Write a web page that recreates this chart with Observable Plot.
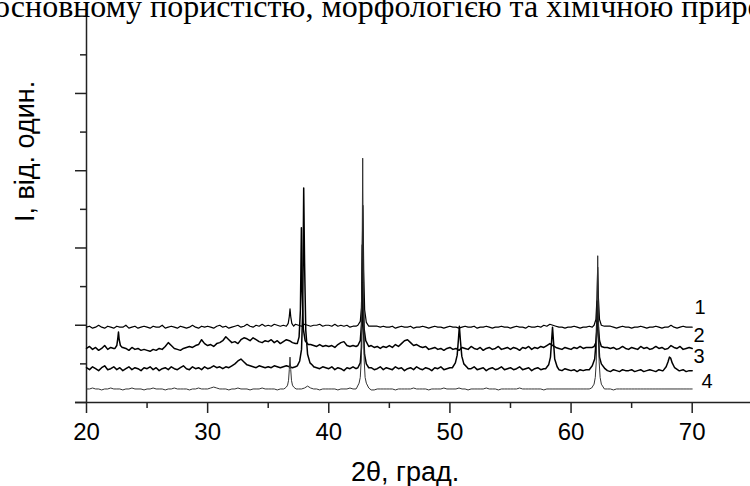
<!DOCTYPE html>
<html><head><meta charset="utf-8">
<script src="https://cdn.jsdelivr.net/npm/d3@7"></script>
<script src="https://cdn.jsdelivr.net/npm/@observablehq/plot@0.6"></script>
<style>
body{margin:0;background:#fff;}
#wrap{position:relative;width:750px;height:486px;overflow:hidden;background:#fff;}
#wrap svg{position:absolute;left:0;top:0;}
#cut{position:absolute;left:-6px;top:-10px;z-index:2;font-family:"Liberation Serif","Times New Roman",serif;font-size:32px;line-height:1;white-space:nowrap;color:#000;}
</style></head><body>
<div id="wrap"><div id="cut">основному пористістю, морфологією та хімічною природою</div></div>
<script>
// ---- data (2θ grid start/step, offsets of stacked patterns, relative intensities) ----
const twoThetaStart = 20, twoThetaStep = 0.25;
const curveLabels = ["1", "2", "3", "4"];
const offsets = [78, 56, 35, 14];
const xTicksMajor = [20, 30, 40, 50, 60, 70];
const xTicksMinor = [25, 35, 45, 55, 65];
const yTicksMajor = [0, 80, 160, 240, 320, 400];
const yTicksMinor = [40, 120, 200, 280, 360];
const xTitle = "2θ, град.";
const yTitle = "I, від. один.";

const noise1 = [
 0,1,-1,0,2,0,-1,1,0,-1,1,0,0,2,-1,0,1,-1,0,1,
 0,-1,1,0,0,2,-1,0,1,0,-1,1,0,-1,0,2,0,-1,1,0,
 1,0,-1,1,2,0,1,-1,0,1,2,0,1,3,1,0,2,1,3,1,
 2,1,3,2,1,2,3,1,2,3,2,1,3,2,1,2,2,3,1,2,
 2,1,3,1,2,1,2,0,1,1,1,1,1,1,1,1,1,0,1,0,
 0,1,-1,0,1,0,0,1,-1,0,0,1,0,-1,0,1,0,0,-1,0,
 1,0,0,-1,0,1,0,0,1,-1,0,0,1,0,-1,0,0,1,0,0,
 -1,0,1,0,0,-1,1,0,0,1,0,2,1,3,2,1,0,0,-1,0,
 0,1,0,-1,0,0,1,0,1,1,1,1,1,1,0,-1,0,1,0,0,
 -1,0,0,1,0,-1,0,0,1,0,-1,0,0,2,0,-1,0,1,0,0,
 0];
const noise2 = [
 0,2,-1,1,-2,0,3,-1,1,0,2,-1,1,0,-2,1,-1,0,-2,-1,
 -2,-3,-1,-2,0,-1,2,6,3,0,-1,-2,0,1,2,1,3,4,9,5,
 3,4,2,5,6,8,12,9,6,7,5,9,11,10,8,11,9,7,6,8,
 7,9,6,8,5,7,9,8,6,5,6,5,4,4,4,3,2,4,2,3,
 2,3,1,4,6,7,3,2,3,2,2,2,2,2,3,1,2,0,2,1,
 3,1,4,2,5,8,9,6,3,4,2,1,2,-1,0,1,-1,0,-2,0,
 1,-1,0,-2,1,0,-1,2,0,-1,1,-2,0,1,-1,0,2,-1,0,1,
 -1,1,0,-2,1,0,2,-1,1,0,2,1,3,5,3,1,0,-1,1,0,
 -1,1,0,2,0,1,1,1,1,1,1,1,1,0,1,-1,0,2,0,-1,
 1,0,-1,2,0,1,-1,0,2,0,1,-1,0,3,1,0,2,-1,0,1,
 0];
const noise3 = [
 1,-1,2,0,-2,1,3,-1,0,2,-1,1,-2,0,2,-1,1,0,-2,1,
 0,2,-1,1,-2,0,1,-1,2,0,-1,1,3,0,-1,2,0,1,-1,2,
 0,1,3,1,2,0,2,1,3,5,8,10,7,4,3,2,1,3,2,1,
 2,1,3,2,1,2,3,2,1,2,2,2,2,2,2,2,1,0,2,1,
 0,2,-1,1,0,-2,1,0,2,0,0,0,0,0,1,-1,0,2,-1,1,
 0,-1,2,0,1,-2,0,1,-1,2,0,-1,1,0,-2,1,0,2,-1,0,
 1,-1,0,0,0,0,0,0,2,-1,0,1,-2,0,1,-1,0,2,-1,0,
 1,-1,0,2,-1,0,1,-2,0,1,-1,0,0,0,0,0,-1,-2,0,-1,
 -2,-1,-3,-1,-2,-1,-1,-1,-1,-1,-1,-1,-2,-3,-1,-2,-3,-1,-2,-2,
 -1,-3,-2,-1,-3,-2,-1,-2,-3,-1,-2,-2,-2,-2,-2,-2,-2,-1,-3,-2,
 -2];
const noise4 = [
 0,0,1,0,0,-1,0,0,1,0,0,0,-1,0,0,1,0,0,0,-1,
 0,0,1,0,0,0,-1,0,0,1,0,0,0,0,-1,0,0,1,0,0,
 0,1,2,1,0,0,0,-1,0,0,1,0,0,0,-1,0,0,0,1,0,
 0,0,0,-1,0,0,0,0,0,0,0,0,1,3,1,0,0,-1,0,0,
 0,0,0,-1,0,0,0,1,0,0,0,0,0,0,-1,-1,0,0,0,0,
 0,0,-1,0,0,0,0,0,1,0,0,0,0,-1,0,0,0,0,1,0,
 0,0,0,1,0,0,-1,0,0,0,0,0,1,0,0,0,-1,0,0,0,
 0,0,0,1,0,0,0,0,0,0,0,-1,0,0,0,0,0,0,0,0,
 0,0,0,0,0,0,0,0,0,0,0,0,0,0,-1,0,0,0,0,0,
 0,0,0,0,0,0,0,0,0,0,0,0,0,0,0,0,0,0,0,0,
 0];

const peaks1 = [
 [[36.5,1],[36.65,4],[36.74,11],[36.8,19],[36.86,11],[36.95,4],[37.1,1]],
 [[42.4,2],[42.6,6],[42.7,20],[42.76,70],[42.82,126],[42.88,60],[42.96,18],[43.1,5],[43.3,1]],
 [[61.9,2],[62.05,8],[62.14,30],[62.2,62],[62.26,30],[62.35,8],[62.5,2]]
];
const peaks2 = [
 [[22.35,0],[22.5,3],[22.58,10],[22.64,17],[22.7,9],[22.8,3],[22.95,1]],
 [[37.4,5],[37.55,12],[37.66,40],[37.74,125],[37.8,60],[37.9,20],[38.05,8],[38.3,4]],
 [[42.4,3],[42.6,8],[42.7,25],[42.77,107],[42.83,60],[42.92,20],[43.05,8],[43.3,2]],
 [[61.9,2],[62.05,6],[62.14,20],[62.2,45],[62.26,22],[62.35,8],[62.5,2]]
];
const peaks3 = [
 [[37.4,3],[37.6,8],[37.75,20],[37.85,60],[37.93,187],[38.0,110],[38.1,40],[38.25,15],[38.45,6],[38.7,3]],
 [[42.4,1],[42.6,6],[42.7,22],[42.78,88],[42.85,45],[42.95,15],[43.1,5],[43.3,1]],
 [[50.2,1],[50.45,6],[50.6,14],[50.7,30],[50.78,44],[50.86,30],[50.98,13],[51.15,5],[51.45,1]],
 [[57.9,0],[58.15,4],[58.3,12],[58.4,30],[58.47,43],[58.55,28],[58.65,10],[58.85,2]],
 [[61.5,-1],[61.75,3],[61.95,10],[62.08,30],[62.17,70],[62.25,35],[62.35,12],[62.5,5],[62.8,0]],
 [[67.6,-2],[67.85,2],[68.0,7],[68.12,12],[68.22,11],[68.35,6],[68.55,1],[68.9,-2]]
];
const peaks4 = [
 [[36.3,0],[36.5,2],[36.6,4],[36.68,9],[36.74,20],[36.8,33],[36.86,20],[36.92,9],[37.0,4],[37.1,2],[37.3,0]],
 [[42.3,1],[42.5,6],[42.6,12],[42.68,30],[42.74,110],[42.8,239],[42.86,110],[42.92,30],[43.0,12],[43.1,6],[43.3,1]],
 [[61.7,1],[61.9,5],[62.0,12],[62.08,28],[62.14,70],[62.2,138],[62.26,70],[62.32,28],[62.4,12],[62.5,5],[62.7,1]]
];
const labelX = [70.19, 70.1, 70.1, 70.76];
const labelY = [92, 62.5, 40.5, 14.5];

// ---- build table ----
const noises = [noise1, noise2, noise3, noise4];
const peakSets = [peaks1, peaks2, peaks3, peaks4];
const rows = [];
noises.forEach((nz, k) => {
  const pts = [];
  const ranges = peakSets[k].map(p => [p[0][0], p[p.length - 1][0]]);
  nz.forEach((v, i) => {
    const x = twoThetaStart + i * twoThetaStep;
    if (!ranges.some(([a, b]) => x >= a && x <= b)) pts.push([x, v]);
  });
  peakSets[k].forEach(p => p.forEach(q => pts.push(q)));
  pts.sort((a, b) => a[0] - b[0]);
  pts.forEach(([x, v]) => rows.push({curve: curveLabels[k], x, y: offsets[k] + v}));
});
const labels = curveLabels.map((t, i) => ({t, x: labelX[i], y: labelY[i]}));

const chart = Plot.plot({
  width: 750, height: 486,
  marginLeft: 86, marginRight: 58.3, marginTop: 15.7, marginBottom: 84,
  x: {domain: [20, 70]},
  y: {domain: [0, 400]},
  style: {fontFamily: "'Liberation Sans', Arial, sans-serif", color: "#000", background: "transparent", overflow: "visible"},
  marks: [
    Plot.ruleY([0], {x1: 19.09, x2: 74.95, stroke: "#222", strokeWidth: 1.5}),
    Plot.ruleX([20], {y1: 0, y2: 402.5, stroke: "#222", strokeWidth: 1.5}),
    Plot.axisX({ticks: xTicksMajor, tickSize: 11, tickPadding: 9, fontSize: 24, tickFormat: d => String(d), strokeWidth: 1.5, stroke: "#222", label: null}),
    Plot.axisX({ticks: xTicksMinor, tickSize: 6, tickFormat: () => "", strokeWidth: 1.5, stroke: "#222", label: null}),
    Plot.axisY({ticks: yTicksMajor, tickSize: 11, tickFormat: () => "", strokeWidth: 1.5, stroke: "#222", label: null}),
    Plot.axisY({ticks: yTicksMinor, tickSize: 6, tickFormat: () => "", strokeWidth: 1.5, stroke: "#222", label: null}),
    Plot.line(rows.filter(d => d.curve === "1"), {x: "x", y: "y", stroke: "#000", strokeWidth: 1.2}),
    Plot.line(rows.filter(d => d.curve === "2" || d.curve === "3"), {x: "x", y: "y", z: "curve", stroke: "#000", strokeWidth: 1.5}),
    Plot.line(rows.filter(d => d.curve === "4"), {x: "x", y: "y", stroke: "#333", strokeWidth: 1}),
    Plot.text(labels, {x: "x", y: "y", text: "t", textAnchor: "start", lineAnchor: "bottom", fontSize: 20, fill: "#000"}),
    Plot.text([xTitle], {x: 46.3, y: 0, dy: 78, lineAnchor: "bottom", textAnchor: "middle", fontSize: 27, fill: "#000"}),
    Plot.text([yTitle], {x: 15.625, y: 260, rotate: -90, lineAnchor: "bottom", textAnchor: "middle", fontSize: 27, fill: "#000"})
  ]
});
document.getElementById("wrap").insertBefore(chart, document.getElementById("cut"));
</script>
</body></html>
